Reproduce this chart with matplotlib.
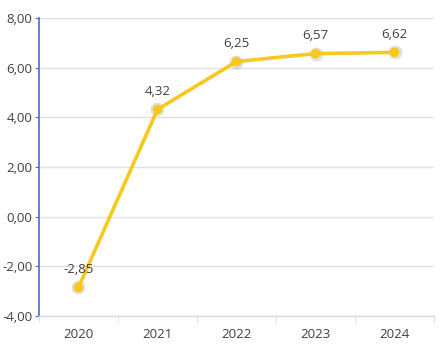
import matplotlib.pyplot as plt
import matplotlib.patheffects as pe

# Données
annees = ['2020', '2021', '2022', '2023', '2024']
valeurs = [-2.85, 4.32, 6.25, 6.57, 6.62]
etiquettes = ['-2,85', '4,32', '6,25', '6,57', '6,62']
yticks = [-4, -2, 0, 2, 4, 6, 8]
ytick_labels = ['-4,00', '-2,00', '0,00', '2,00', '4,00', '6,00', '8,00']

plt.rcParams['font.family'] = ['Open Sans', 'DejaVu Sans']

fig = plt.figure(figsize=(4.44, 3.55), dpi=100)
ax = fig.add_axes([0.0878, 0.110, 0.8897, 0.839])

x = list(range(len(annees)))
jaune = '#F7C81E'

# ombre des points
ax.plot(x, valeurs, 'o', color='#888888', markersize=10, alpha=0.25,
        markeredgewidth=0, zorder=2)
ax.plot(x, valeurs, '-', color=jaune, linewidth=2.6, zorder=3)
ax.plot(x, valeurs, 'o', color=jaune, markersize=7, markeredgewidth=0, zorder=4,
        path_effects=[pe.SimpleLineShadow(offset=(-1, -1), shadow_color='#777777', alpha=0.35),
                      pe.Normal()])

for xi, v, t in zip(x, valeurs, etiquettes):
    ax.annotate(t, (xi, v), xytext=(0, 8), textcoords='offset points',
                ha='center', va='bottom', fontsize=9.5, color='#404040')

ax.set_xlim(-0.5, len(annees) - 0.5)
ax.set_ylim(-4, 8)
ax.set_yticks(yticks)
ax.set_yticklabels(ytick_labels, fontsize=9.5, color='#404040')
ax.set_xticks(x)
ax.set_xticklabels(annees, fontsize=9.5, color='#404040')
ax.set_xticks([i - 0.5 for i in range(len(annees) + 1)], minor=True)

ax.grid(axis='y', color='#e0e0e0', linewidth=1)
ax.set_axisbelow(True)
for s in ['top', 'right']:
    ax.spines[s].set_visible(False)
ax.spines['left'].set_color('#4472C4')
ax.spines['left'].set_linewidth(1.2)
ax.spines['bottom'].set_color('#d9d9d9')
ax.spines['bottom'].set_linewidth(1)
ax.tick_params(axis='y', length=3, color='#4472C4', pad=1.5)
ax.tick_params(axis='x', which='major', length=0, pad=9)
ax.tick_params(axis='x', which='minor', length=4, color='#d9d9d9')

plt.savefig('out.png', dpi=100)
